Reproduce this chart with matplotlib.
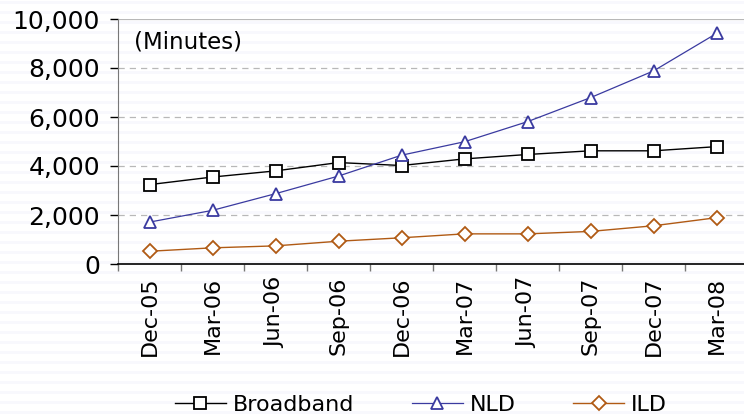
import numpy as np
import matplotlib
matplotlib.use("Agg")
import matplotlib.pyplot as plt
from matplotlib.ticker import FuncFormatter

quarters = ["Dec-05", "Mar-06", "Jun-06", "Sep-06", "Dec-06",
            "Mar-07", "Jun-07", "Sep-07", "Dec-07", "Mar-08"]
broadband = [3240, 3550, 3800, 4140, 4020, 4290, 4470, 4620, 4620, 4790]
nld = [1710, 2190, 2870, 3590, 4440, 4990, 5810, 6790, 7880, 9410]
ild = [520, 660, 740, 930, 1070, 1230, 1230, 1330, 1560, 1890]

plt.rcParams["font.family"] = ["DejaVu Sans"]

fig = plt.figure(figsize=(7.44, 4.2), dpi=100)
fig.patch.set_facecolor("white")

# faint striped slide background
bg = fig.add_axes([0, 0, 1, 1], zorder=-10)
bg.set_xlim(0, 1)
bg.set_ylim(420, 0)
for y0 in range(0, 420, 10):
    bg.axhspan(y0 + 1, y0 + 4, color="#f8f8fd", lw=0)
bg.axis("off")

ax = fig.add_axes([118 / 744, 1 - 264 / 420, 630 / 744, 245 / 420])
ax.patch.set_alpha(0)
x = np.arange(len(quarters))

ax.plot(x, broadband, color="black", lw=1.0, marker="s", ms=8,
        mfc="white", mec="black", mew=1.3, label="Broadband")
ax.plot(x, nld, color="#3a3aa0", lw=0.9, marker="^", ms=9,
        mfc="white", mec="#3a3aa0", mew=1.3, label="NLD")
ax.plot(x, ild, color="#b05a14", lw=1.0, marker="D", ms=7,
        mfc="white", mec="#b05a14", mew=1.3, label="ILD")

ax.set_xlim(-0.5, len(quarters) - 0.5)
ax.set_ylim(0, 10000)
ax.set_yticks(range(0, 10001, 2000))
ax.yaxis.set_major_formatter(FuncFormatter(lambda v, p: f"{int(v):,}"))
for v in range(2000, 10001, 2000):
    ax.axhline(v, color="#b8b8b8", lw=0.9,
               ls="-" if v == 10000 else (0, (5, 4)), zorder=0)

# category ticks sit between labels
ax.set_xticks(x)
ax.set_xticklabels(quarters, rotation=90)
ax.set_xticks(np.arange(-0.5, len(quarters), 1), minor=True)
ax.tick_params(axis="x", which="major", length=0, pad=9, labelsize=16)
ax.tick_params(axis="x", which="minor", length=5, color="#777777", width=1)
ax.tick_params(axis="y", length=6, width=1, labelsize=18, pad=7)

for s in ["top", "right"]:
    ax.spines[s].set_visible(False)
ax.spines["left"].set_color("#777777")
ax.spines["bottom"].set_color("black")
ax.spines["bottom"].set_linewidth(1.2)

ax.text(0.025, 0.905, "(Minutes)", transform=ax.transAxes, fontsize=16.5,
        va="center")

fig.legend(loc="center", bbox_to_anchor=(421 / 744, 1 - 405 / 420), ncol=3,
           frameon=False, fontsize=16, handlelength=2.3,
           columnspacing=2.6, handletextpad=0.3)

fig.savefig("out.png", dpi=100)
